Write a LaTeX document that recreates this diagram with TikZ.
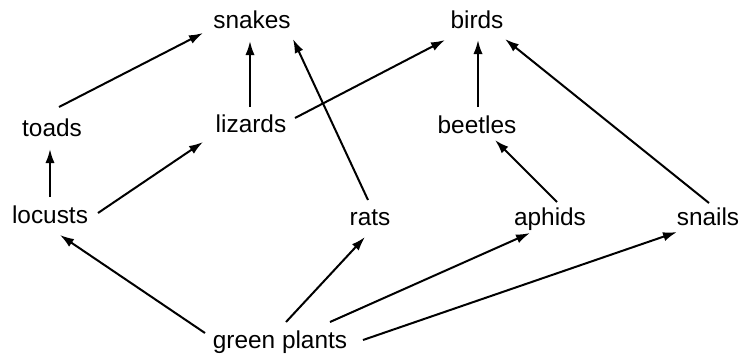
\documentclass[tikz,border=0pt]{standalone}
\usepackage{fontspec}
\setmainfont{Liberation Sans}
\usetikzlibrary{arrows.meta,calc}
\begin{document}
\begin{tikzpicture}[x=0.5pt,y=-0.5pt,
  lbl/.style={anchor=base,inner sep=0pt,font=\fontsize{12.2pt}{14pt}\selectfont},
  link/.style={line width=1pt,-{Latex[length=7pt,width=4.6pt]}}]
\fill[white] (0,0) rectangle (745,360);
\useasboundingbox (0,0) rectangle (745,360);
\node[lbl] (snakes) at (252,28) {snakes};
\node[lbl] (birds) at (477,28) {birds};
\node[lbl] (toads) at (52,136) {toads};
\node[lbl] (lizards) at (251,132) {lizards};
\node[lbl] (beetles) at (477,133) {beetles};
\node[lbl] (locusts) at (50,223) {locusts};
\node[lbl] (rats) at (370,225) {rats};
\node[lbl] (aphids) at (550,225) {aphids};
\node[lbl] (snails) at (708,225) {snails};
\node[lbl] (plants) at (280,348) {green plants};
\draw[link] ($(toads.base)+(7,-29)$) -- ($(snakes.base)+(-49,5)$);
\draw[link] ($(lizards.base)+(-1,-25)$) -- ($(snakes.base)+(-2,13)$);
\draw[link] ($(rats.base)+(-2,-25)$) -- ($(snakes.base)+(41,11)$);
\draw[link] ($(lizards.base)+(44,-14)$) -- ($(birds.base)+(-32,12)$);
\draw[link] ($(beetles.base)+(1,-26)$) -- ($(birds.base)+(1,12)$);
\draw[link] ($(snails.base)+(1,-22)$) -- ($(birds.base)+(28,11)$);
\draw[link] ($(locusts.base)+(0,-26)$) -- ($(toads.base)+(-2,13)$);
\draw[link] ($(locusts.base)+(48,-10)$) -- ($(lizards.base)+(-48,10)$);
\draw[link] ($(aphids.base)+(7,-23)$) -- ($(beetles.base)+(18,7)$);
\draw[link] ($(plants.base)+(-75,-15)$) -- ($(locusts.base)+(10,12)$);
\draw[link] ($(plants.base)+(6,-26)$) -- ($(rats.base)+(-5,12)$);
\draw[link] ($(plants.base)+(50,-26)$) -- ($(aphids.base)+(-20,8)$);
\draw[link] ($(plants.base)+(83,-8)$) -- ($(snails.base)+(-31,7)$);
\end{tikzpicture}
\end{document}
